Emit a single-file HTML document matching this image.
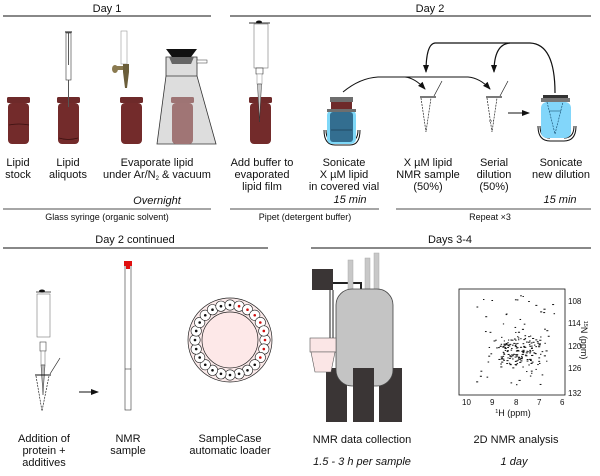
<!DOCTYPE html>
<html><head><meta charset="utf-8"><style>
html,body{margin:0;padding:0;background:#fff;}
svg{display:block;}
text{font-family:"Liberation Sans",Arial,sans-serif;fill:#111;}
</style></head><body>
<svg id="s" width="600" height="476" viewBox="0 0 600 476" xmlns="http://www.w3.org/2000/svg">
<defs>
<marker id="ah" markerWidth="8" markerHeight="8" refX="7" refY="4" orient="auto" markerUnits="userSpaceOnUse"><path d="M0,1 L8,4 L0,7 Z" fill="#111"/></marker>
<g id="vial"><rect x="0" y="0" width="23" height="6" rx="1.5" fill="#6e2a2a"/><rect x="1" y="6" width="21" height="41" rx="4" fill="#732b2b"/></g>
</defs>
<text x="107" y="12" font-size="11" text-anchor="middle">Day 1</text>
<line x1="3" y1="16" x2="211" y2="16" stroke="#111" stroke-width="1"/>
<text x="430" y="12" font-size="11" text-anchor="middle">Day 2</text>
<line x1="230" y1="16" x2="591" y2="16" stroke="#111" stroke-width="1"/>

<use href="#vial" x="7" y="97"/>
<path d="M9,125 Q19,123 29,125" stroke="#3a1010" fill="none" stroke-width="0.7"/>
<use href="#vial" x="57" y="97"/>
<path d="M59,138 Q68,141 78,138" stroke="#3a1010" fill="none" stroke-width="0.7"/>
<line x1="65" y1="32" x2="72" y2="32" stroke="#111"/>
<rect x="66" y="33" width="5" height="47" fill="#fff" stroke="#333" stroke-width="0.6"/>
<line x1="68.5" y1="33" x2="68.5" y2="65" stroke="#333" stroke-width="0.8"/>
<line x1="68.5" y1="80" x2="68.5" y2="107" stroke="#555" stroke-width="1"/>
<use href="#vial" x="120" y="97"/>
<rect x="121" y="31" width="6" height="33" fill="#fff" stroke="#999" stroke-width="0.6"/>
<rect x="114" y="66" width="14" height="4" fill="#8a7a50"/>
<ellipse cx="115" cy="69" rx="3" ry="4" fill="#8a7a50"/>
<path d="M123,64 L129,64 L129,72 L127,88 L125,88 L123,72 Z" fill="#6b5e3a"/>
<path d="M166,57 L197,57 L197,76 L216,144 L157,144 L166,76 Z" fill="#ddd" stroke="#333" stroke-width="0.8"/>
<line x1="166" y1="76" x2="197" y2="76" stroke="#333" stroke-width="0.8"/>
<path d="M166,49 L197,49 L191,57 L172,57 Z" fill="#111"/>
<path d="M169,57 L194,57 L191,64 L172,64 Z" fill="#666"/>
<rect x="197" y="60" width="10" height="3" fill="#fff" stroke="#333" stroke-width="0.5"/>
<rect x="171" y="97" width="23" height="6" rx="1.5" fill="#9e7474"/>
<rect x="172" y="103" width="21" height="41" rx="4" fill="#a07575"/>
<use href="#vial" x="249" y="97"/>
<line x1="249" y1="23" x2="270" y2="23" stroke="#333"/>
<ellipse cx="259" cy="22" rx="3" ry="1.5" fill="#111"/>
<rect x="254" y="24" width="14" height="44" fill="#fff" stroke="#777" stroke-width="0.6"/>
<rect x="256" y="68" width="7" height="6" fill="#fff" stroke="#333" stroke-width="0.6"/>
<rect x="257" y="74" width="5" height="10" fill="#fff" stroke="#999" stroke-width="0.6"/>
<path d="M257.5,84 L261.5,84 L259.5,122 Z" fill="#ccc" stroke="#333" stroke-width="0.5"/>
<path d="M324,130 Q324,145 335,145 L350,145 Q360,145 360,130" stroke="#111" fill="none"/>
<path d="M326,130 Q326,142 336,142" stroke="#111" fill="none"/>
<path d="M358,130 Q358,142 348,142" stroke="#111" fill="none"/>
<rect x="327" y="110" width="29" height="34" rx="5" fill="#7fd8f8"/>
<rect x="330" y="97" width="23" height="5" fill="#6e6e6e"/>
<rect x="331" y="102" width="21" height="8" fill="#6e2a2a"/>
<rect x="327" y="109" width="29" height="3" fill="#6e6e6e"/>
<rect x="330" y="112" width="23" height="30" rx="3" fill="#336e90"/>
<line x1="331" y1="130" x2="352" y2="130" stroke="#1c3e55" stroke-width="0.7"/>
<g fill="none" stroke="#222" stroke-width="0.7">
<line x1="420" y1="97" x2="436" y2="97" stroke-width="1.2"/>
<path d="M421,98 L426,132 L431,98" stroke-dasharray="2,1"/>
<line x1="434" y1="96" x2="442" y2="81"/>
</g>
<g fill="none" stroke="#222" stroke-width="0.7">
<line x1="486" y1="97" x2="502" y2="97" stroke-width="1.2"/>
<path d="M487,98 L492,132 L497,98" stroke-dasharray="2,1"/>
<line x1="489" y1="121" x2="495" y2="121" stroke-dasharray="1,1"/>
<line x1="500" y1="96" x2="508" y2="81"/>
</g>
<line x1="508" y1="113" x2="529" y2="113" stroke="#111" marker-end="url(#ah)"/>
<path d="M538,126 Q538,141 550,141 L564,141 Q576,141 576,126" stroke="#111" fill="none"/>
<path d="M540,126 Q540,138 550,138" stroke="#111" fill="none"/>
<path d="M574,126 Q574,138 564,138" stroke="#111" fill="none"/>
<rect x="541" y="102" width="30" height="36" rx="6" fill="#82d6fa"/>
<rect x="543" y="95" width="25" height="3" fill="#333"/>
<rect x="541" y="98" width="29" height="4" fill="#777"/>
<path d="M547,102 L555,134 L563,102" stroke="#1d5577" fill="none" stroke-width="0.7" stroke-dasharray="2,1"/>
<line x1="549" y1="111" x2="561" y2="111" stroke="#1d5577" stroke-width="0.6"/>
<path d="M343,92 Q360,78 378,77 L405,77 Q415,78 425,89" stroke="#111" fill="none" marker-end="url(#ah)"/>
<path d="M400,77 L468,77 Q480,78 490,89" stroke="#111" fill="none" marker-end="url(#ah)"/>
<path d="M555,93 Q555,44 530,43 L435,43 Q426,44 426,72" stroke="#111" fill="none" stroke-width="1.2" marker-end="url(#ah)"/>
<path d="M510,43 Q494,44 494,72" stroke="#111" fill="none" stroke-width="1.2" marker-end="url(#ah)"/>

<g font-size="11" text-anchor="middle">
<text x="18" y="166">Lipid</text><text x="18" y="178">stock</text>
<text x="68" y="166">Lipid</text><text x="68" y="178">aliquots</text>
<text x="157" y="166">Evaporate lipid</text><text x="157" y="178">under Ar/N<tspan font-size="6" dy="2">2</tspan><tspan dy="-2"> &amp; vacuum</tspan></text>
<text x="262" y="166">Add buffer to</text><text x="262" y="178">evaporated</text><text x="262" y="190">lipid film</text>
<text x="344" y="166">Sonicate</text><text x="344" y="178">X µM lipid</text><text x="344" y="190">in covered vial</text>
<text x="428" y="166">X µM lipid</text><text x="428" y="178">NMR sample</text><text x="428" y="190">(50%)</text>
<text x="494" y="166">Serial</text><text x="494" y="178">dilution</text><text x="494" y="190">(50%)</text>
<text x="561" y="166">Sonicate</text><text x="561" y="178">new dilution</text>
<text x="157" y="204" font-style="italic">Overnight</text>
<text x="350" y="203" font-style="italic">15 min</text>
<text x="560" y="203" font-style="italic">15 min</text>
</g>
<line x1="3" y1="209" x2="211" y2="209" stroke="#111" stroke-width="0.8"/>
<line x1="230" y1="209" x2="379" y2="209" stroke="#111" stroke-width="0.8"/>
<line x1="396" y1="209" x2="591" y2="209" stroke="#111" stroke-width="0.8"/>
<g font-size="9" text-anchor="middle" fill="#333">
<text x="107" y="220">Glass syringe (organic solvent)</text>
<text x="305" y="220">Pipet (detergent buffer)</text>
<text x="490" y="220">Repeat ×3</text>
</g>

<text x="135" y="243" font-size="11" text-anchor="middle">Day 2 continued</text>
<line x1="3" y1="248" x2="268" y2="248" stroke="#111"/>
<text x="450" y="243" font-size="11" text-anchor="middle">Days 3-4</text>
<line x1="311" y1="248" x2="591" y2="248" stroke="#111"/>

<line x1="36" y1="292" x2="51" y2="292" stroke="#555"/>
<ellipse cx="42" cy="291" rx="3" ry="1.5" fill="#111"/>
<rect x="37" y="294" width="13" height="43" fill="#fff" stroke="#777" stroke-width="0.6"/>
<rect x="40" y="342" width="6" height="9" fill="#fff" stroke="#444" stroke-width="0.6"/>
<rect x="41" y="351" width="4" height="14" fill="#fff" stroke="#777" stroke-width="0.6"/>
<path d="M41,365 L45,365 L43,395 Z" fill="#bbb" stroke="#333" stroke-width="0.5"/>
<line x1="35" y1="375" x2="51" y2="375" stroke="#111"/>
<path d="M36,376 L42,411 L49,376" fill="none" stroke="#222" stroke-width="0.7" stroke-dasharray="2,1"/>
<line x1="50" y1="374" x2="60" y2="358" stroke="#222" stroke-width="0.7"/>
<line x1="79" y1="392" x2="98" y2="392" stroke="#111" marker-end="url(#ah)"/>
<rect x="125" y="265" width="6" height="145" fill="#fff" stroke="#333" stroke-width="0.6"/>
<rect x="124" y="261" width="8" height="5" fill="#e01010"/>
<rect x="126" y="266" width="4" height="3" fill="#e01010"/>
<line x1="125" y1="369" x2="131" y2="369" stroke="#333" stroke-width="0.6"/>
<circle cx="230" cy="340" r="42" fill="#fbeaea" stroke="#222" stroke-width="0.7"/>
<circle cx="230" cy="340" r="28" fill="#fde8e8" stroke="#222" stroke-width="0.7"/>
<g id="ring"></g>

<rect x="312" y="269" width="21" height="21" fill="#3a3535"/>
<line x1="333" y1="283" x2="362" y2="283" stroke="#222" stroke-width="2"/>
<line x1="361" y1="283" x2="361" y2="291" stroke="#222" stroke-width="2"/>
<line x1="330" y1="290" x2="330" y2="340" stroke="#222"/>
<line x1="333" y1="290" x2="333" y2="340" stroke="#222"/>
<rect x="348" y="260" width="5" height="32" fill="#c8c8c8" stroke="#aaa" stroke-width="0.5"/>
<rect x="365" y="258" width="5" height="34" fill="#c8c8c8" stroke="#aaa" stroke-width="0.5"/>
<rect x="374" y="253" width="5" height="39" fill="#c8c8c8" stroke="#aaa" stroke-width="0.5"/>
<rect x="326" y="368" width="21" height="54" fill="#3a3535"/>
<rect x="379" y="368" width="23" height="54" fill="#3a3535"/>
<rect x="336" y="289" width="57" height="97" rx="16" fill="#c4c4c4" stroke="#444" stroke-width="0.8"/>
<rect x="353" y="368" width="21" height="54" fill="#3a3535"/>
<rect x="310" y="338" width="26" height="14" fill="#fbe6e6" stroke="#555" stroke-width="0.6"/>
<path d="M311,352 L335,352 L331,372 L315,372 Z" fill="#fbe6e6" stroke="#555" stroke-width="0.6"/>

<rect x="459" y="289" width="106" height="106" fill="#fff" stroke="#111" stroke-width="0.8"/>
<g id="dots"></g>
<g font-size="8" fill="#222">
<text x="568" y="304">108</text><text x="568" y="326">114</text><text x="568" y="349">120</text><text x="568" y="371">126</text><text x="568" y="396">132</text>
<text x="462" y="405">10</text><text x="490" y="405">9</text><text x="514" y="405">8</text><text x="537" y="405">7</text><text x="560" y="405">6</text>
</g>
<text x="513" y="416" font-size="9" text-anchor="middle"><tspan font-size="5.5" dy="-3">1</tspan><tspan dy="3">H (ppm)</tspan></text>
<text transform="translate(581,340) rotate(90)" font-size="9" text-anchor="middle"><tspan font-size="5.5" dy="-3">15</tspan><tspan dy="3">N (ppm)</tspan></text>

<g font-size="11" text-anchor="middle">
<text x="44" y="442">Addition of</text><text x="44" y="454">protein +</text><text x="44" y="466">additives</text>
<text x="128" y="442">NMR</text><text x="128" y="454">sample</text>
<text x="230" y="442">SampleCase</text><text x="230" y="454">automatic loader</text>
<text x="362" y="443">NMR data collection</text>
<text x="362" y="465" font-style="italic">1.5 - 3 h per sample</text>
<text x="516" y="443">2D NMR analysis</text>
<text x="514" y="465" font-style="italic">1 day</text>
</g>
</svg>
<script>
var NS="http://www.w3.org/2000/svg";
var ring=document.getElementById("ring");
for(var i=0;i<24;i++){var a=i/24*2*Math.PI;var x=230+35*Math.cos(a),y=340+35*Math.sin(a);
var c=document.createElementNS(NS,"circle");c.setAttribute("cx",x);c.setAttribute("cy",y);c.setAttribute("r",5.2);c.setAttribute("fill","#fff");c.setAttribute("stroke","#222");c.setAttribute("stroke-width","0.6");ring.appendChild(c);
var d=document.createElementNS(NS,"circle");d.setAttribute("cx",x);d.setAttribute("cy",y);d.setAttribute("r",1.3);d.setAttribute("fill",(i>=19||i<=2)?"#d01010":"#111");ring.appendChild(d);}
var s=7;function r(){s=(s*16807)%2147483647;return s/2147483647;}
var g=document.getElementById("dots");
for(var k=0;k<220;k++){var x,y;if(k<150){x=517+(r()+r()+r()-1.5)*22;y=350+(r()+r()+r()-1.5)*14;}else{x=475+r()*80;y=295+r()*90;}
var e=document.createElementNS(NS,"rect");e.setAttribute("x",x);e.setAttribute("y",y);e.setAttribute("width",1.2+r());e.setAttribute("height",1);e.setAttribute("fill","#111");g.appendChild(e);}
</script>
</body></html>
